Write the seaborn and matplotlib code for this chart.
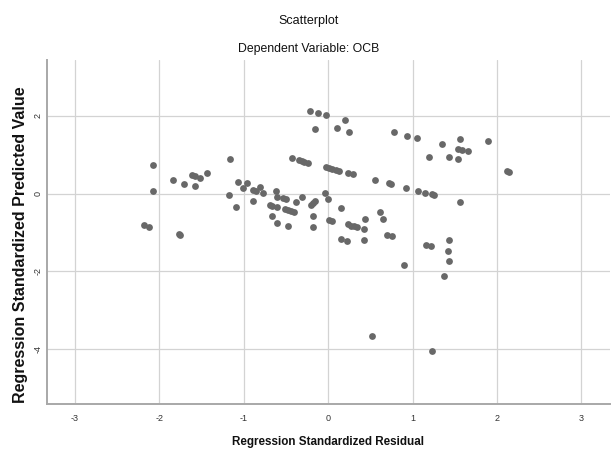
import numpy as np
import pandas as pd
import matplotlib
matplotlib.use("Agg")
import matplotlib.pyplot as plt
import seaborn as sns

# --- DATA ---
std_residual = [
    -2.08, -2.08, -2.18, -2.12, -1.77, -1.75, -1.84, -1.71, -1.61, -1.58,
    -1.52, -1.58, -1.43, -1.16, -1.17, -1.09, -1.07, -0.22, -0.12, -0.02,
    0.20, -0.15, 0.10, 0.25, 0.78, 0.94, 1.05, 1.20, -0.43, -0.35,
    -0.31, -0.28, -0.24, -0.03, 0.01, 0.05, 0.09, 0.13, 0.24, 0.29,
    0.56, 0.72, 0.75, 0.92, 1.06, 1.15, 1.23, 1.26, -0.96, -1.01,
    -0.89, -0.86, -0.81, -0.77, -0.89, -0.62, -0.60, -0.53, -0.50, -0.69,
    -0.66, -0.60, -0.51, -0.47, -0.44, -0.40, -0.38, -0.31, -0.67, -0.60,
    -0.47, -0.20, -0.18, -0.16, -0.18, -0.18, -0.04, 0.00, 0.01, 0.04,
    0.15, 0.15, 0.22, 0.23, 0.27, 0.31, 0.34, 0.42, 0.44, 0.42,
    0.61, 0.65, 0.70, 0.76, 0.90, 1.16, 1.22, 1.56, 1.35, 1.89,
    1.54, 1.59, 1.66, 1.43, 1.54, 2.12, 2.14, 1.56, 1.43, 1.42,
    1.43, 1.37, 0.52, 1.23,
]
std_predicted = [
    0.74, 0.07, -0.81, -0.85, -1.04, -1.06, 0.34, 0.26, 0.47, 0.46,
    0.41, 0.19, 0.52, 0.89, -0.03, -0.35, 0.31, 2.13, 2.07, 2.02,
    1.90, 1.67, 1.68, 1.60, 1.58, 1.49, 1.43, 0.94, 0.91, 0.86,
    0.83, 0.81, 0.78, 0.69, 0.66, 0.64, 0.61, 0.58, 0.54, 0.50,
    0.36, 0.27, 0.25, 0.15, 0.08, 0.03, -0.02, -0.03, 0.27, 0.15,
    0.10, 0.06, 0.18, 0.01, -0.18, 0.08, -0.08, -0.12, -0.14, -0.29,
    -0.31, -0.35, -0.39, -0.42, -0.45, -0.47, -0.21, -0.09, -0.57, -0.75,
    -0.82, -0.30, -0.25, -0.18, -0.58, -0.85, 0.01, -0.14, -0.67, -0.70,
    -0.37, -1.17, -1.21, -0.79, -0.82, -0.84, -0.87, -0.91, -0.65, -1.18,
    -0.47, -0.64, -1.06, -1.10, -1.84, -1.32, -1.35, 1.42, 1.27, 1.36,
    1.16, 1.13, 1.09, 0.95, 0.89, 0.58, 0.55, -0.21, -1.19, -1.47,
    -1.74, -2.11, -3.66, -4.04,
]
x_ticks = [-3, -2, -1, 0, 1, 2, 3]
y_ticks = [-4, -2, 0, 2]

df = pd.DataFrame({"resid": std_residual, "pred": std_predicted})

sns.set_theme(style="white")
plt.rcParams["font.family"] = ["Liberation Sans", "DejaVu Sans"]

fig = plt.figure(figsize=(6.14, 4.5), dpi=100)
ax = fig.add_axes([0.076, 0.1022, 0.9175, 0.7645])

sns.scatterplot(data=df, x="resid", y="pred", ax=ax, color="#686868",
                s=24, linewidth=0, zorder=3, legend=False)

ax.set_xlim(-3.335, 3.34)
ax.set_ylim(-5.413, 3.441)
ax.set_xticks(x_ticks)
ax.set_yticks(y_ticks)
ax.set_xticklabels([str(t) for t in x_ticks])
ax.set_yticklabels([str(t) for t in y_ticks], rotation=90, va="center")
ax.tick_params(axis="both", length=0, labelsize=6.5, colors="#333333")
ax.tick_params(axis="x", pad=7)
ax.tick_params(axis="y", pad=3)

ax.grid(True, color="#d3d3d3", linewidth=0.9)
ax.set_axisbelow(True)
for side in ["top", "right"]:
    ax.spines[side].set_visible(False)
for side in ["left", "bottom"]:
    ax.spines[side].set_color("#a8a8a8")
    ax.spines[side].set_linewidth(1.4)

ax.set_xlabel("")
ax.set_ylabel("")

# titles and axis titles placed like the SPSS output
fig.text(0.503, 0.954, "Scatterplot", ha="center", va="center",
         fontsize=9, color="#111111")
fig.text(0.503, 0.891, "Dependent Variable: OCB", ha="center", va="center",
         fontsize=8.8, color="#111111")
fig.text(0.534, 0.017, "Regression Standardized Residual", ha="center",
         va="center", fontsize=8.4, fontweight="bold", color="#111111")
fig.text(0.034, 0.456, "Regression Standardized Predicted Value", ha="center",
         va="center", rotation=90, fontsize=11.5, fontweight="bold",
         color="#111111")

fig.savefig("out.png", dpi=100)
